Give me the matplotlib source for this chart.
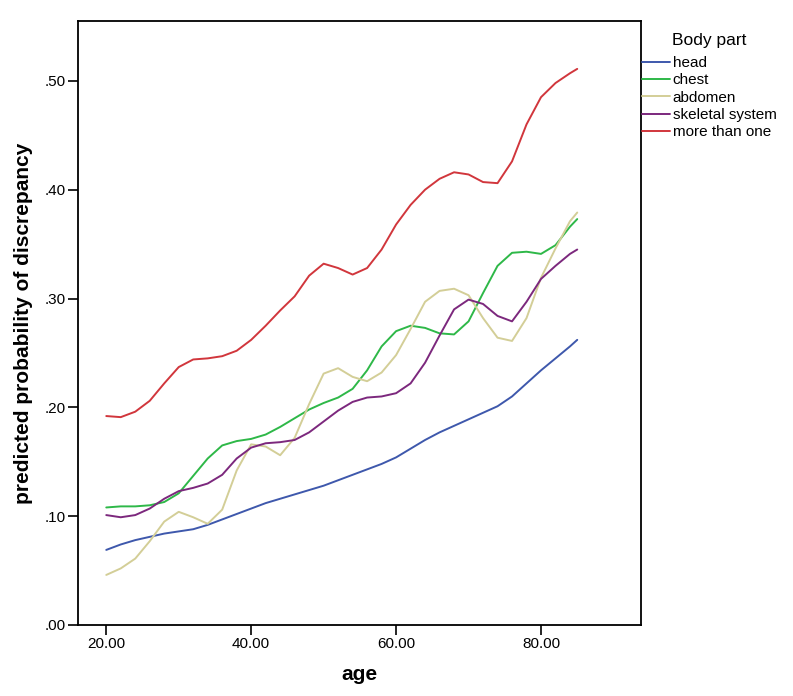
import numpy as np
import matplotlib
matplotlib.use("Agg")
import matplotlib.pyplot as plt

plt.rcParams['font.family'] = ['Liberation Sans', 'DejaVu Sans']

# ages (x values)
age = [20, 22, 24, 26, 28, 30, 32, 34, 36, 38, 40, 42, 44, 46, 48, 50, 52,
       54, 56, 58, 60, 62, 64, 66, 68, 70, 72, 74, 76, 78, 80, 82, 84, 85]

head = [0.069, 0.074, 0.078, 0.081, 0.084, 0.086, 0.088, 0.092, 0.097, 0.102,
        0.107, 0.112, 0.116, 0.120, 0.124, 0.128, 0.133, 0.138, 0.143, 0.148,
        0.154, 0.162, 0.170, 0.177, 0.183, 0.189, 0.195, 0.201, 0.210, 0.222,
        0.234, 0.245, 0.256, 0.262]

chest = [0.108, 0.109, 0.109, 0.110, 0.113, 0.121, 0.137, 0.153, 0.165, 0.169,
         0.171, 0.175, 0.182, 0.190, 0.198, 0.204, 0.209, 0.217, 0.234, 0.256,
         0.270, 0.275, 0.273, 0.268, 0.267, 0.279, 0.305, 0.330, 0.342, 0.343,
         0.341, 0.349, 0.366, 0.373]

abdomen = [0.046, 0.052, 0.061, 0.077, 0.095, 0.104, 0.099, 0.093, 0.106, 0.142,
           0.166, 0.164, 0.156, 0.172, 0.203, 0.231, 0.236, 0.228, 0.224, 0.232,
           0.248, 0.272, 0.297, 0.307, 0.309, 0.303, 0.282, 0.264, 0.261, 0.282,
           0.319, 0.346, 0.371, 0.379]

skeletal = [0.101, 0.099, 0.101, 0.107, 0.116, 0.123, 0.126, 0.130, 0.138, 0.153,
            0.163, 0.167, 0.168, 0.170, 0.177, 0.187, 0.197, 0.205, 0.209, 0.210,
            0.213, 0.222, 0.241, 0.266, 0.290, 0.299, 0.295, 0.284, 0.279, 0.297,
            0.318, 0.330, 0.341, 0.345]

more_than_one = [0.192, 0.191, 0.196, 0.206, 0.222, 0.237, 0.244, 0.245, 0.247,
                 0.252, 0.262, 0.275, 0.289, 0.302, 0.321, 0.332, 0.328, 0.322,
                 0.328, 0.345, 0.368, 0.386, 0.400, 0.410, 0.416, 0.414, 0.407,
                 0.406, 0.426, 0.460, 0.485, 0.498, 0.507, 0.511]

labels = ['head', 'chest', 'abdomen', 'skeletal system', 'more than one']
colors = ['#3E58AC', '#2EB848', '#D3CE97', '#7C287D', '#D1363C']
x_ticks = [20, 40, 60, 80]
y_ticks = [0.0, 0.1, 0.2, 0.3, 0.4, 0.5]

fig = plt.figure(figsize=(7.93, 6.96), dpi=100)
ax = fig.add_axes([78/793, 1-625/696, (641-78)/793, (625-21)/696])

series = [head, chest, abdomen, skeletal, more_than_one]
for vals, lab, col in zip(series, labels, colors):
    ax.plot(age, vals, color=col, lw=1.4, label=lab,
            solid_joinstyle='round', solid_capstyle='round')

ax.set_xlim(16.1, 93.8)
ax.set_ylim(0, 0.555)
ax.set_xticks(x_ticks)
ax.set_xticklabels([f"{t:.2f}" for t in x_ticks])
ax.set_yticks(y_ticks)
ax.set_yticklabels([f"{t:.2f}"[1:] for t in y_ticks])
ax.tick_params(direction='out', length=7, width=1.2, labelsize=11, pad=2)

for s in ax.spines.values():
    s.set_linewidth(1.3)

ax.set_xlabel('age', fontsize=15, fontweight='bold', labelpad=10)
ax.set_ylabel('predicted probability of discrepancy', fontsize=15,
              fontweight='bold', labelpad=8)

# legend: title placed separately so the gap matches the original
fig.text(709/793, 1-40/696, 'Body part', ha='center', va='center', fontsize=12.5)
leg = fig.legend(loc='upper left', bbox_to_anchor=(642/793, 1-56/696),
                 frameon=False, fontsize=11, handlelength=1.8,
                 handletextpad=0.2, labelspacing=0.22, borderpad=0,
                 borderaxespad=0)

fig.savefig('out.png', dpi=100)
